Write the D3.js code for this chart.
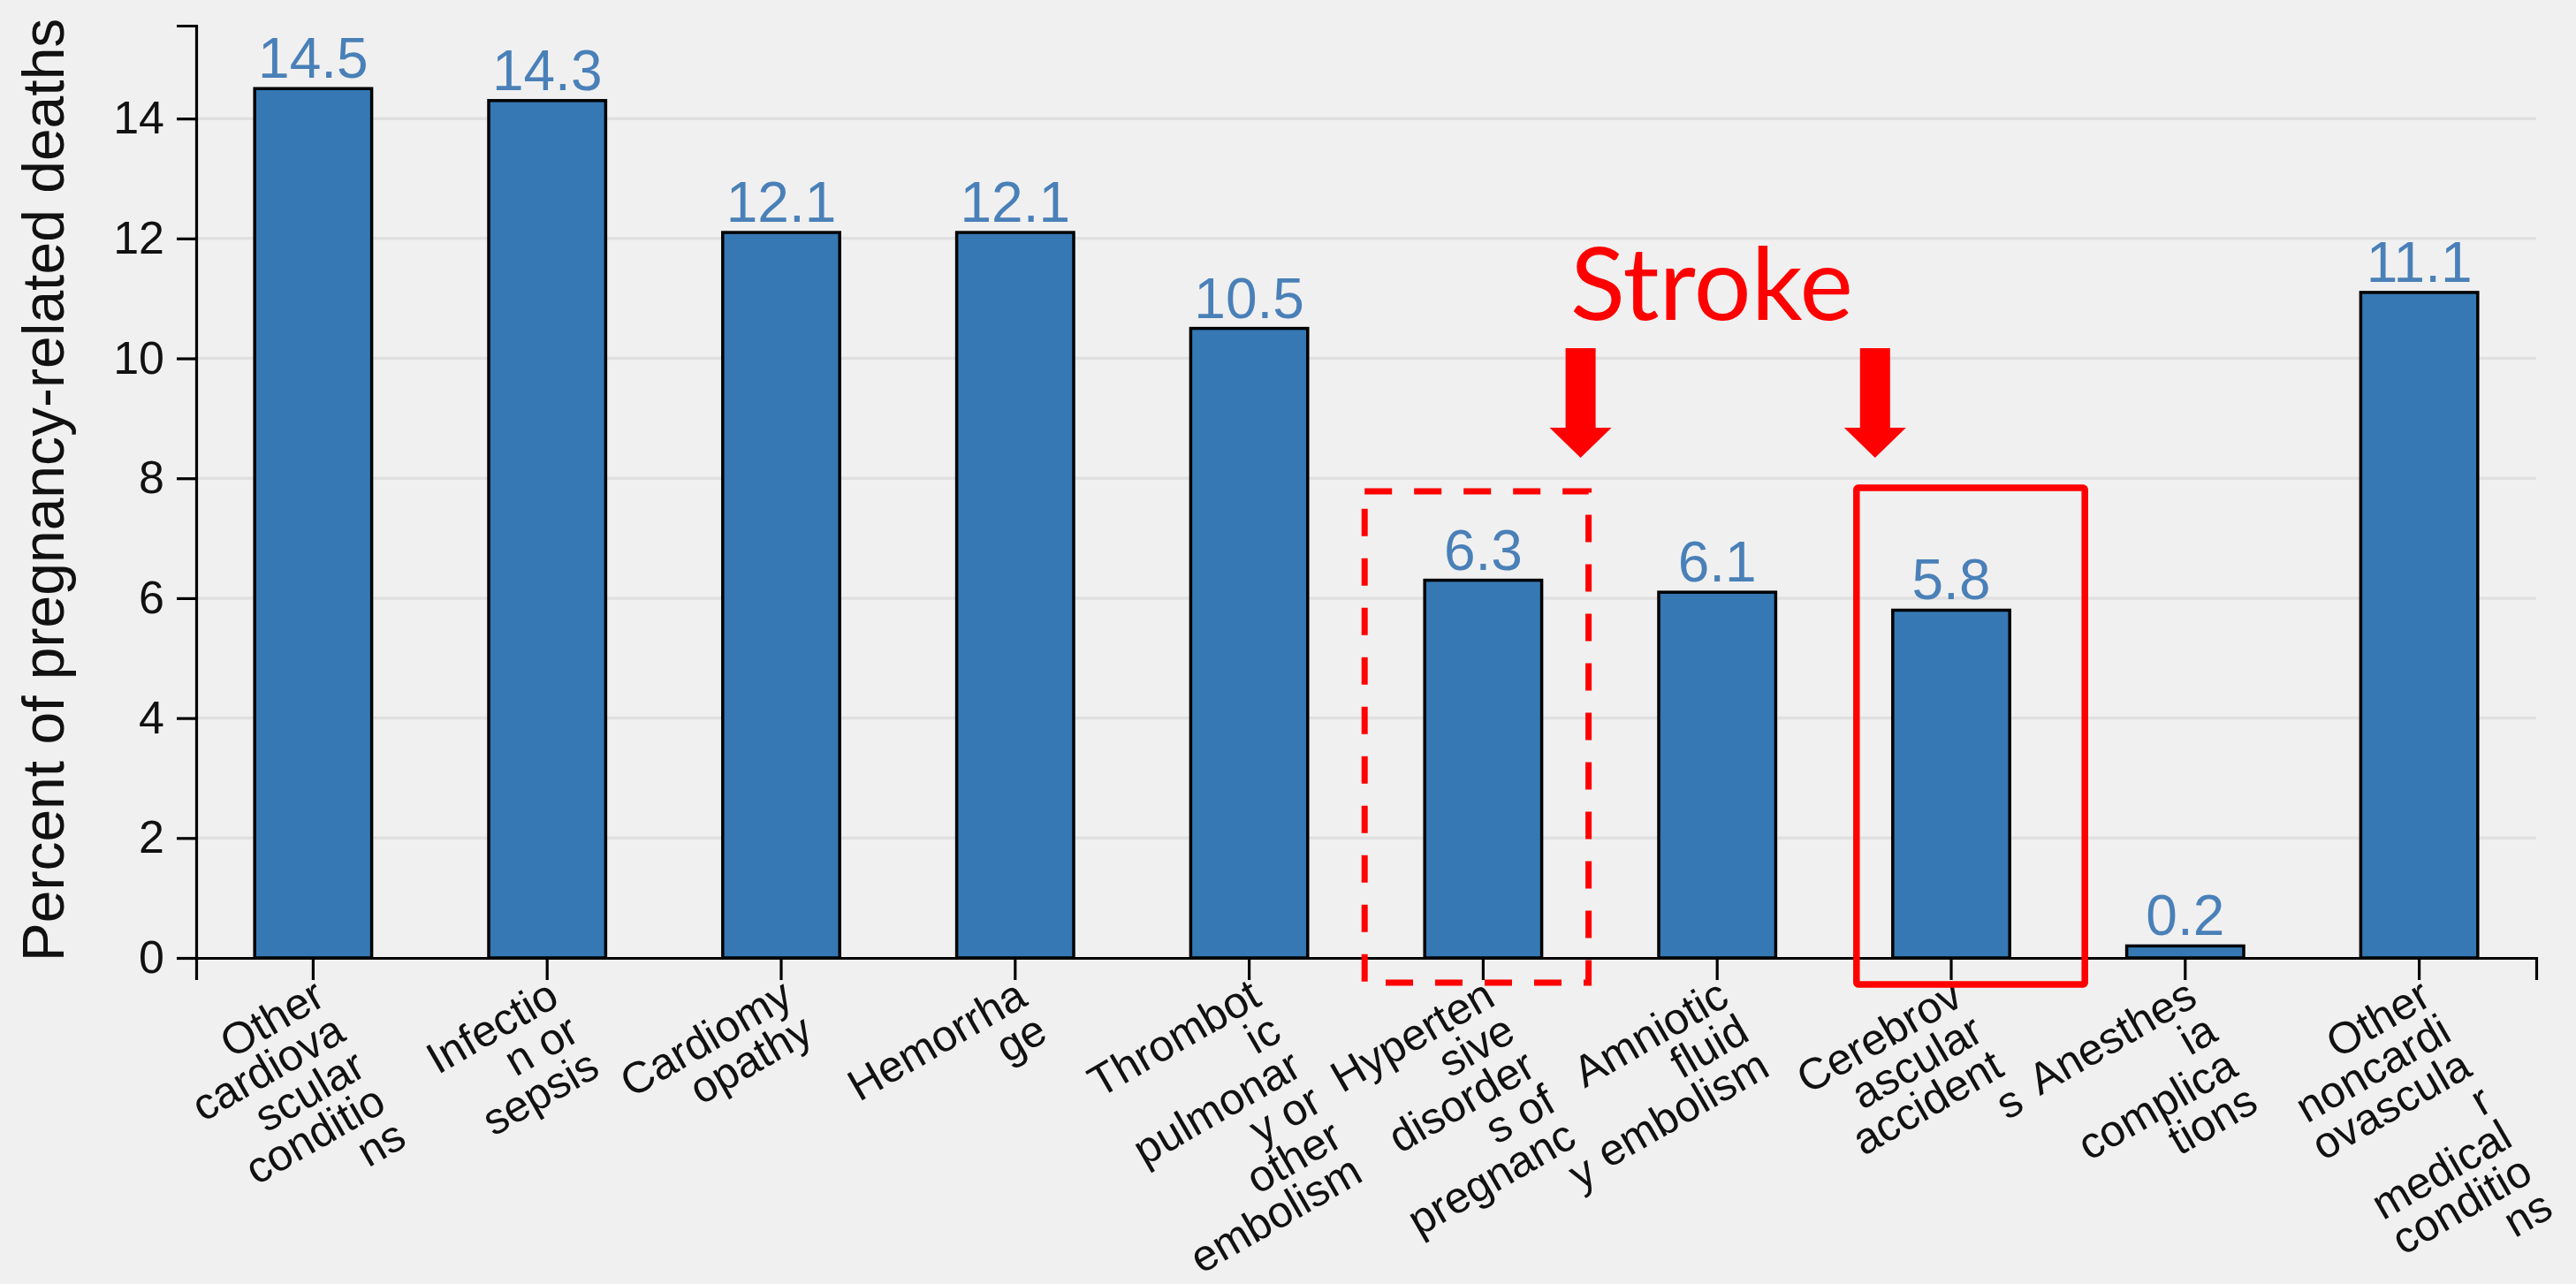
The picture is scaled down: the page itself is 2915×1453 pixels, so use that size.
<!DOCTYPE html>
<html>
<head>
<meta charset="utf-8">
<script src="https://cdn.jsdelivr.net/npm/d3@7"></script>
<style>
  html, body { margin: 0; padding: 0; background: #f0f0f0; }
  svg { display: block; }
</style>
</head>
<body>
<svg id="chart" width="2915" height="1453"></svg>
<script>
// Causes of pregnancy-related death and their share of all such deaths (%)
const categories = [
  "Other cardiovascular conditions",
  "Infection or sepsis",
  "Cardiomyopathy",
  "Hemorrhage",
  "Thrombotic pulmonary or other embolism",
  "Hypertensive disorders of pregnancy",
  "Amniotic fluid embolism",
  "Cerebrovascular accidents",
  "Anesthesia complications",
  "Other noncardiovascular medical conditions"
];
const values = [14.5, 14.3, 12.1, 12.1, 10.5, 6.3, 6.1, 5.8, 0.2, 11.1];

// Category labels as they wrap under the axis
const tickLabelLines = [
  ["Other", "cardiova", "scular", "conditio", "ns"],
  ["Infectio", "n or", "sepsis"],
  ["Cardiomy", "opathy"],
  ["Hemorrha", "ge"],
  ["Thrombot", "ic", "pulmonar", "y or", "other", "embolism"],
  ["Hyperten", "sive", "disorder", "s of", "pregnanc", "y"],
  ["Amniotic", "fluid", "embolism"],
  ["Cerebrov", "ascular", "accident", "s"],
  ["Anesthes", "ia", "complica", "tions"],
  ["Other", "noncardi", "ovascula", "r", "medical", "conditio", "ns"]
];
const yTickValues = [0, 2, 4, 6, 8, 10, 12, 14];
const yAxisTitle = "Percent of pregnancy-related deaths";

// Stroke-related causes called out on the chart
const calloutText = "Stroke";
const dashedCategory = "Hypertensive disorders of pregnancy";
const solidCategory = "Cerebrovascular accidents";

const svg = d3.select("#chart");
const FONT = "'Liberation Sans', Arial, Helvetica, sans-serif";

const plotLeft = 222, plotRight = 2870, plotTop = 29, plotBottom = 1084;

const x = d3.scaleBand()
  .domain(categories)
  .range([plotLeft, plotRight])
  .paddingInner(0.5)
  .paddingOuter(0.25);

const y = d3.scaleLinear()
  .domain([0, 15.55])
  .range([plotBottom, plotTop]);

// Horizontal gridlines
svg.append("g")
  .selectAll("line")
  .data(yTickValues.filter(v => v > 0))
  .join("line")
  .attr("x1", plotLeft + 2)
  .attr("x2", plotRight)
  .attr("y1", d => y(d))
  .attr("y2", d => y(d))
  .attr("stroke", "#e0e0e0")
  .attr("stroke-width", 3.5);

// Bars
svg.append("g")
  .selectAll("rect")
  .data(categories)
  .join("rect")
  .attr("x", d => x(d))
  .attr("y", (d, i) => y(values[i]))
  .attr("width", x.bandwidth())
  .attr("height", (d, i) => y(0) - y(values[i]))
  .attr("fill", "#3578b3")
  .attr("stroke", "#000")
  .attr("stroke-width", 3.5);

// Value labels above bars
svg.append("g")
  .selectAll("text")
  .data(categories)
  .join("text")
  .attr("x", d => x(d) + x.bandwidth() / 2)
  .attr("y", (d, i) => y(values[i]) - 12)
  .attr("text-anchor", "middle")
  .attr("font-family", FONT)
  .attr("font-size", 64)
  .attr("fill", "#4a80b8")
  .text((d, i) => values[i].toFixed(1));

// Y axis
const yAxis = svg.append("g")
  .attr("transform", `translate(${plotLeft},0)`)
  .call(d3.axisLeft(y).tickValues(yTickValues).tickSize(22).tickSizeOuter(22).tickPadding(14));
yAxis.select(".domain").attr("stroke", "#000").attr("stroke-width", 3.2);
yAxis.selectAll(".tick line").attr("stroke", "#000").attr("stroke-width", 3.2);
yAxis.selectAll(".tick text")
  .attr("font-family", FONT)
  .attr("font-size", 52)
  .attr("fill", "#111");

// X axis
const xAxis = svg.append("g")
  .attr("transform", `translate(0,${plotBottom})`)
  .call(d3.axisBottom(x).tickSize(25).tickSizeOuter(25).tickFormat(""));
xAxis.select(".domain").attr("stroke", "#000").attr("stroke-width", 3.2);
xAxis.selectAll(".tick line").attr("stroke", "#000").attr("stroke-width", 3.2);

// Wrapped, rotated category labels
const labelG = svg.append("g");
categories.forEach((c, i) => {
  const cx = x(c) + x.bandwidth() / 2;
  const t = labelG.append("text")
    .attr("transform", `translate(${cx + 16},${plotBottom + 52}) rotate(-30)`)
    .attr("text-anchor", "end")
    .attr("font-family", FONT)
    .attr("font-size", 50)
    .attr("fill", "#111");
  tickLabelLines[i].forEach((line, j) => {
    t.append("tspan").attr("x", 0).attr("y", j * 46).text(line);
  });
});

// Y axis title
svg.append("text")
  .attr("transform", `translate(72,${(plotTop + plotBottom) / 2 - 2}) rotate(-90)`)
  .attr("text-anchor", "middle")
  .attr("font-family", FONT)
  .attr("font-size", 66)
  .attr("fill", "#111")
  .text(yAxisTitle);

// Callout boxes around the stroke-related bars
const RED = "#ff0000";
const dx0 = x(dashedCategory), dx1 = dx0 + x.bandwidth();
svg.append("rect")
  .attr("x", dx0 - 68)
  .attr("y", 556)
  .attr("width", (dx1 + 53) - (dx0 - 68))
  .attr("height", 1112 - 556)
  .attr("fill", "none")
  .attr("stroke", RED)
  .attr("stroke-width", 7)
  .attr("stroke-dasharray", "31 25");

const sx0 = x(solidCategory), sx1 = sx0 + x.bandwidth();
svg.append("rect")
  .attr("x", sx0 - 41)
  .attr("y", 552)
  .attr("width", (sx1 + 85) - (sx0 - 41))
  .attr("height", 1114 - 552)
  .attr("rx", 2)
  .attr("fill", "none")
  .attr("stroke", RED)
  .attr("stroke-width", 7.5);

// Down arrows
function arrow(cx) {
  const top = 394, neck = 484, tip = 518, shaft = 17, head = 35;
  return `M${cx - shaft},${top} H${cx + shaft} V${neck} H${cx + head} L${cx},${tip} L${cx - head},${neck} H${cx - shaft} Z`;
}
svg.append("path").attr("d", arrow(dx1 + 44)).attr("fill", RED);
svg.append("path").attr("d", arrow(sx0 - 20)).attr("fill", RED);

// Callout label
svg.append("text")
  .attr("x", 1937)
  .attr("y", 362)
  .attr("text-anchor", "middle")
  .attr("font-family", "Lato, 'Open Sans', sans-serif")
  .attr("font-size", 114)
  .attr("textLength", 320)
  .attr("lengthAdjust", "spacingAndGlyphs")
  .attr("fill", RED)
  .text(calloutText);
</script>
</body>
</html>
